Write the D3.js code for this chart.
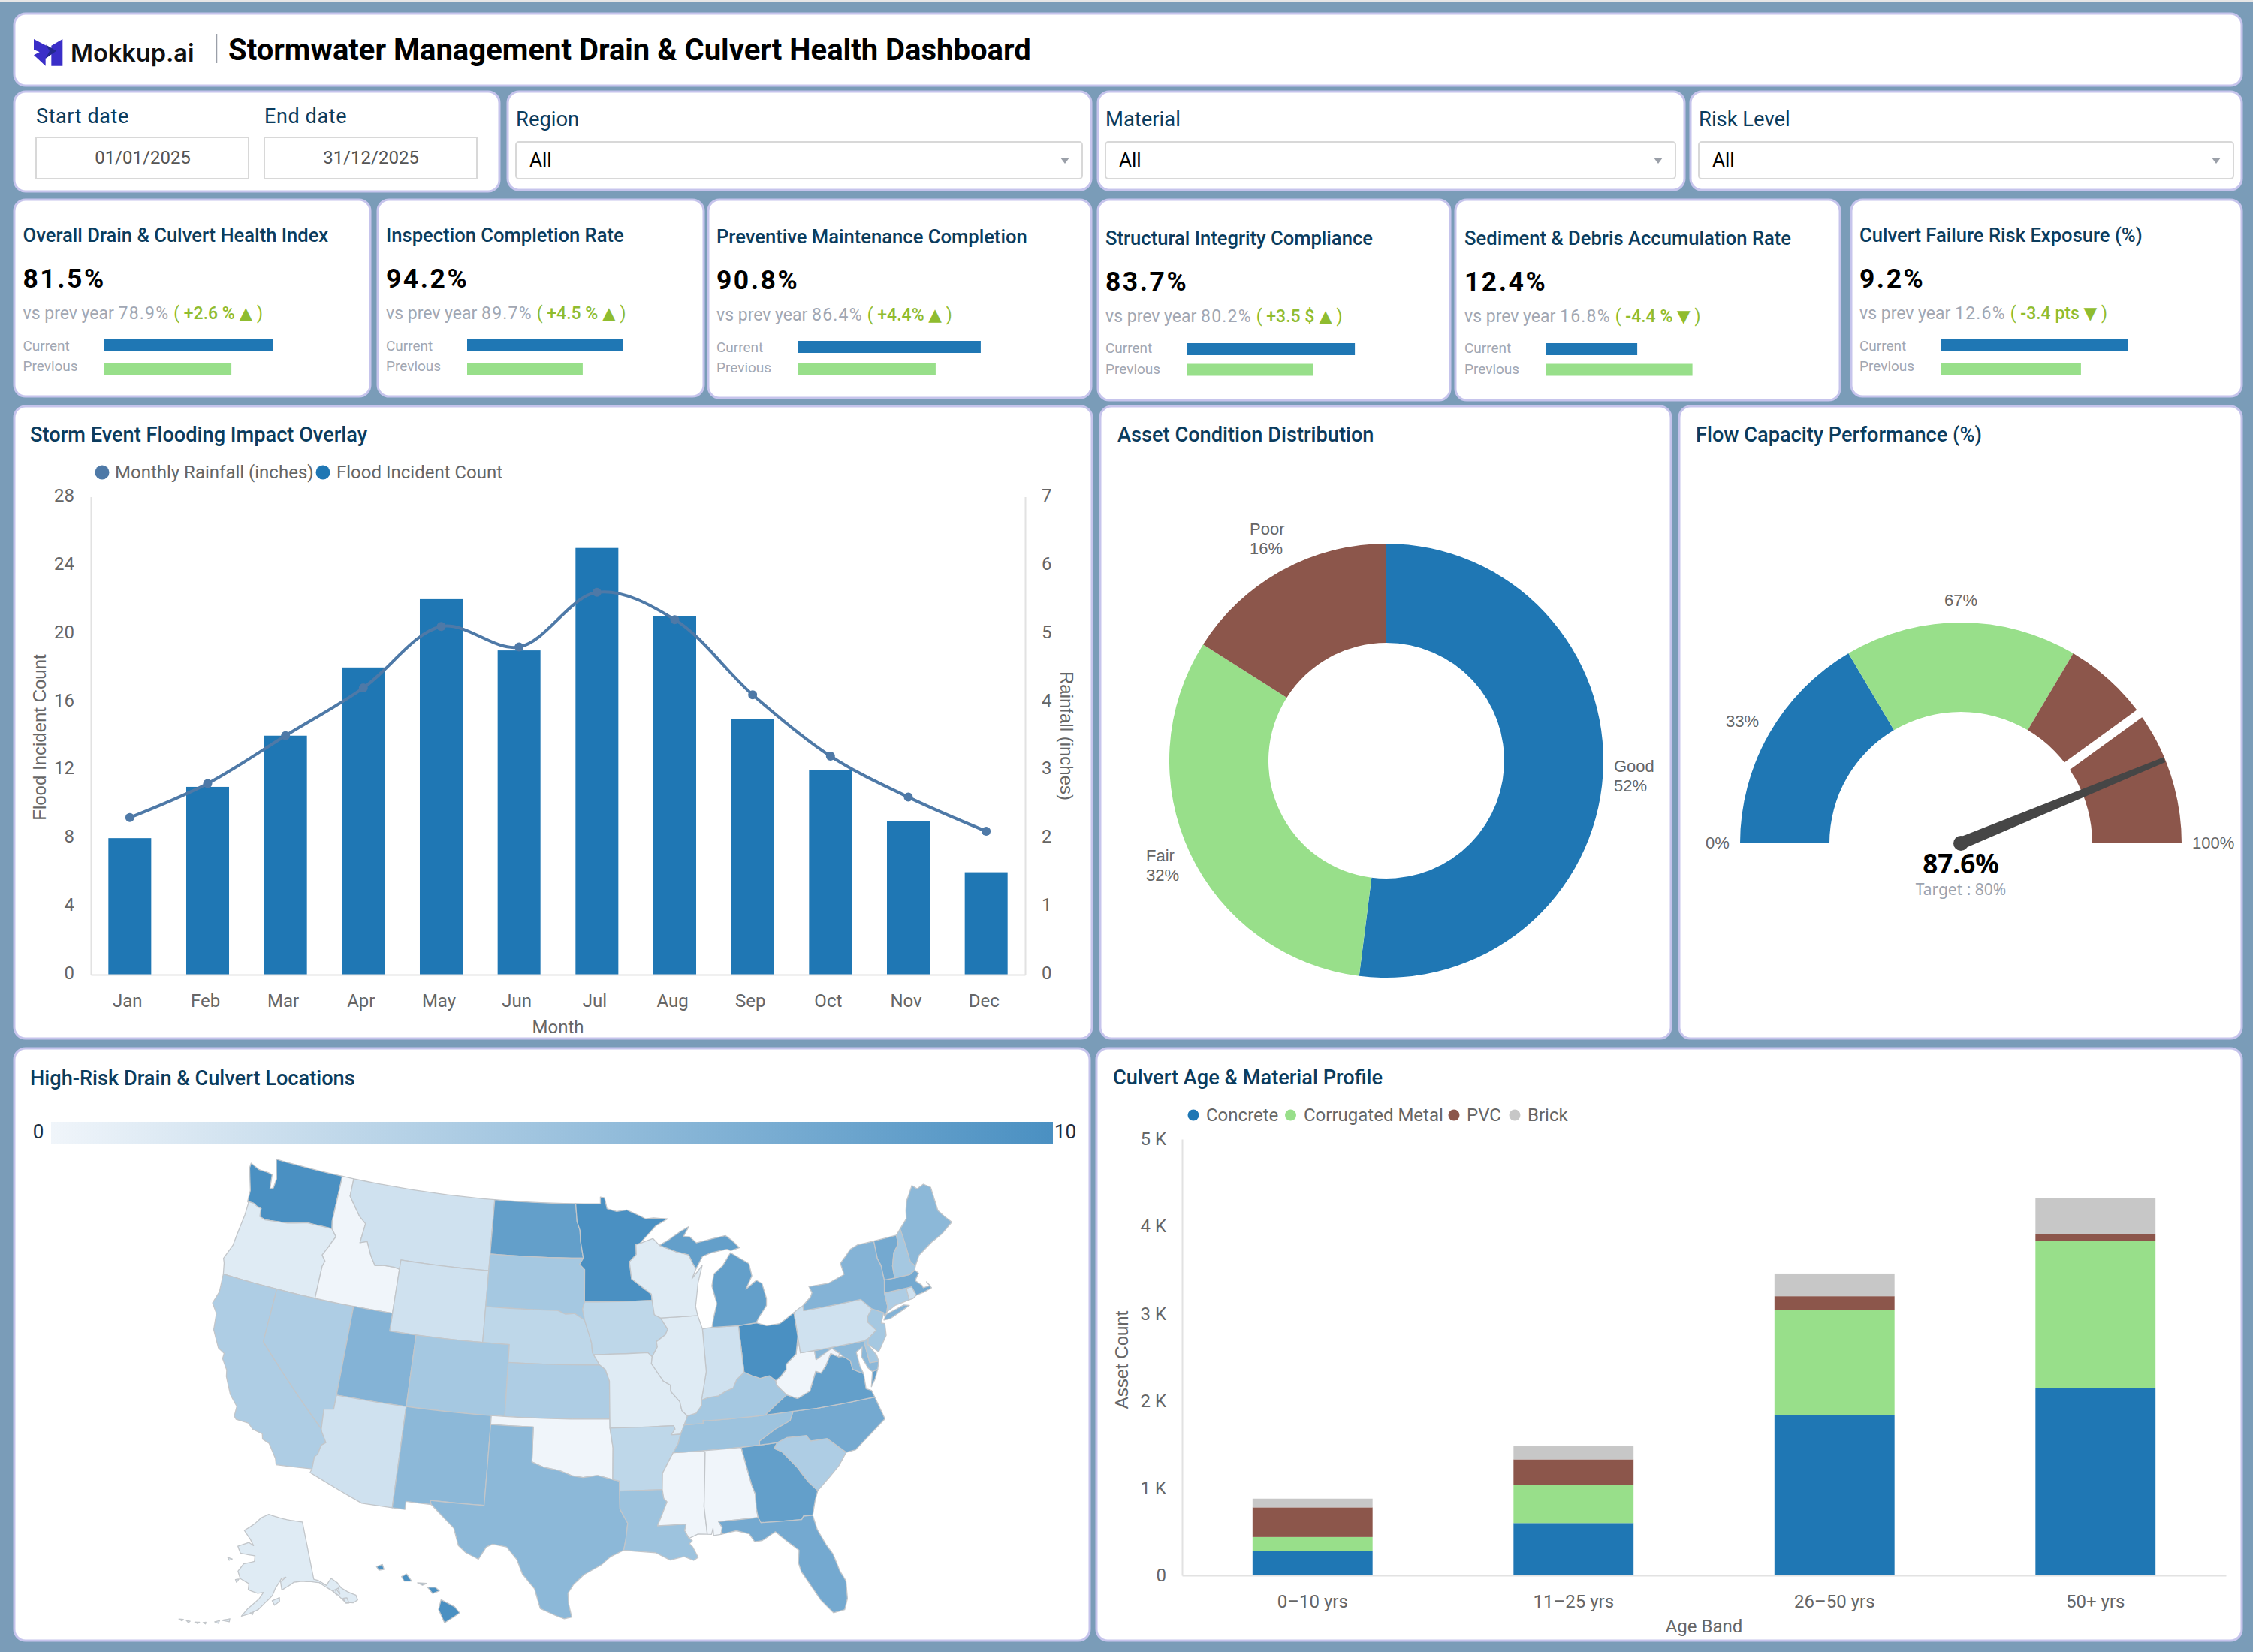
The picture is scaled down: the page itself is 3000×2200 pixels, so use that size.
<!DOCTYPE html>
<html>
<head>
<meta charset="utf-8">
<title>Stormwater Management Drain &amp; Culvert Health Dashboard</title>
<script src="https://cdn.jsdelivr.net/npm/d3@7/dist/d3.min.js"></script>
<style>
  html, body { margin: 0; padding: 0; background: #7a9cb8; }
  svg { display: block; }
  text { font-family: Roboto, sans-serif; }
</style>
</head>
<body>
<svg id="board" width="3000" height="2200"></svg>
<script>
// ---- KPI cards ----
const kpiTitles = ["Overall Drain & Culvert Health Index", "Inspection Completion Rate", "Preventive Maintenance Completion", "Structural Integrity Compliance", "Sediment & Debris Accumulation Rate", "Culvert Failure Risk Exposure (%)"];
const kpiValues = ["81.5%", "94.2%", "90.8%", "83.7%", "12.4%", "9.2%"];
const kpiPrevious = ["78.9%", "89.7%", "86.4%", "80.2%", "16.8%", "12.6%"];
const kpiDeltas = ["+2.6 %", "+4.5 %", "+4.4%", "+3.5 $", "-4.4 %", "-3.4 pts"];
const kpiArrows = ["▲", "▲", "▲", "▲", "▼", "▼"];
// Mini bar readings on the cards' own 0-100 track
const kpiBarCurrent = [75.3, 69, 81.3, 74.7, 40.7, 83.3];
const kpiBarPrevious = [56.7, 51.3, 61.3, 56, 65.2, 62.3];

// ---- Storm chart ----
const months = ["Jan", "Feb", "Mar", "Apr", "May", "Jun", "Jul", "Aug", "Sep", "Oct", "Nov", "Dec"];
const floodIncidents = [8, 11, 14, 18, 22, 19, 25, 21, 15, 12, 9, 6];
const rainfallInches = [2.3, 2.8, 3.5, 4.2, 5.1, 4.8, 5.6, 5.2, 4.1, 3.2, 2.6, 2.1];
const floodTicks = [0, 4, 8, 12, 16, 20, 24, 28];
const rainTicks = [0, 1, 2, 3, 4, 5, 6, 7];

// ---- Asset condition ----
const conditionNames = ["Good", "Fair", "Poor"];
const conditionShares = [52, 32, 16];

// ---- Flow gauge ----
const gaugeStops = [0, 33, 67, 100];
const gaugeValue = 87.6;
const gaugeTarget = 80;

// ---- Culvert age profile ----
const ageBands = ["0–10 yrs", "11–25 yrs", "26–50 yrs", "50+ yrs"];
const materials = ["Concrete", "Corrugated Metal", "PVC", "Brick"];
const concreteCounts = [280, 600, 1840, 2150];
const metalCounts = [160, 440, 1200, 1680];
const pvcCounts = [340, 290, 160, 80];
const brickCounts = [100, 150, 260, 410];
const assetTicks = [0, 1000, 2000, 3000, 4000, 5000];

// ---- High-risk locations per state ----
const riskByState = {
  WA: 10, OR: 1, CA: 4, NV: 4, ID: 0, MT: 2, WY: 2, UT: 6.5, AZ: 2, CO: 4.5, NM: 6, ND: 8.5, SD: 4.5, NE: 3, KS: 4,
  OK: 0, TX: 6, MN: 10, IA: 3, MO: 1, AR: 3, LA: 5, WI: 1, IL: 1, IN: 2, MI: 8.5, OH: 10, KY: 4.5, TN: 5, MS: 0, AL: 0,
  GA: 8.5, FL: 7.5, SC: 4, NC: 7.5, VA: 8.5, WV: 0, PA: 2, NY: 6.5, VT: 7.5, NH: 4.5, ME: 6, MA: 7.5, RI: 2, CT: 4,
  NJ: 4.5, DE: 4.5, MD: 6, AK: 1, HI: 10
};

// State outlines as [longitude, latitude] rings
const stateRings = {
  WA: [[[-124.7,48.38],[-123.9,48.16],[-123.1,48.15],[-122.75,48.1],[-122.6,47.3],[-122.35,47.4],[-122.3,47.95],[-122.5,48.4],[-122.76,49],[-117.03,49],[-117.04,46.42],[-116.92,45.99],[-118.98,46],[-119.3,45.93],[-120.5,45.7],[-121.2,45.65],[-122.3,45.55],[-122.77,45.65],[-122.85,46.1],[-123.2,46.15],[-123.55,46.26],[-124.05,46.27],[-124.1,46.9],[-124.4,47.5],[-124.7,48.1]]],
  OR: [[[-124.05,46.27],[-123.55,46.26],[-123.2,46.15],[-122.85,46.1],[-122.77,45.65],[-122.3,45.55],[-121.2,45.65],[-120.5,45.7],[-119.3,45.93],[-118.98,46],[-116.92,45.99],[-116.47,45.6],[-116.67,45.32],[-116.85,45],[-117.22,44.45],[-117.03,44.25],[-116.9,44.15],[-117.03,43.83],[-117.03,42],[-120,42],[-124.21,42],[-124.4,42.6],[-124.55,42.84],[-124.15,43.7],[-124.05,44.7],[-123.95,45.5],[-123.95,46.2]]],
  CA: [[[-124.21,42],[-120,42],[-120,39],[-114.63,35],[-114.57,34.85],[-114.14,34.3],[-114.43,34.1],[-114.53,33.6],[-114.72,33.4],[-114.72,32.72],[-117.12,32.53],[-117.25,32.85],[-117.9,33.6],[-118.4,33.75],[-118.5,34.03],[-119.2,34.15],[-119.6,34.42],[-120.47,34.45],[-120.65,34.6],[-120.65,35.15],[-121.3,35.7],[-121.9,36.6],[-122,36.95],[-122.5,37.5],[-122.5,37.8],[-123,38],[-123.7,38.9],[-123.85,39.8],[-124.35,40.3],[-124.1,41]]],
  NV: [[[-120,42],[-117.03,42],[-114.04,42],[-114.04,37],[-114.05,36.2],[-114.72,36.1],[-114.63,35],[-120,39]]],
  ID: [[[-117.03,49],[-116.05,49],[-116.05,48],[-115.72,47.7],[-114.95,47],[-114.35,46.65],[-114.5,45.55],[-113.95,45.7],[-113.45,44.95],[-113,44.45],[-112.3,44.55],[-111.5,44.55],[-111.05,44.48],[-111.05,42],[-114.04,42],[-117.03,42],[-117.03,43.83],[-116.9,44.15],[-117.03,44.25],[-117.22,44.45],[-116.85,45],[-116.67,45.32],[-116.47,45.6],[-116.92,45.99],[-117.04,46.42]]],
  MT: [[[-116.05,49],[-104.05,49],[-104.05,45.94],[-104.05,45],[-111.05,45],[-111.05,44.48],[-111.5,44.55],[-112.3,44.55],[-113,44.45],[-113.45,44.95],[-113.95,45.7],[-114.5,45.55],[-114.35,46.65],[-114.95,47],[-115.72,47.7],[-116.05,48]]],
  WY: [[[-111.05,45],[-104.05,45],[-104.05,43],[-104.05,41],[-111.05,41],[-111.05,42],[-111.05,44.48]]],
  UT: [[[-114.04,42],[-111.05,42],[-111.05,41],[-109.05,41],[-109.05,37],[-114.04,37]]],
  CO: [[[-109.05,41],[-104.05,41],[-102.05,41],[-102.05,40],[-102.05,37],[-103,37],[-109.05,37]]],
  AZ: [[[-114.04,37],[-109.05,37],[-109.05,31.33],[-111.07,31.33],[-114.8,32.5],[-114.72,32.72],[-114.72,33.4],[-114.53,33.6],[-114.43,34.1],[-114.14,34.3],[-114.57,34.85],[-114.63,35],[-114.72,36.1],[-114.05,36.2]]],
  NM: [[[-109.05,37],[-103,37],[-103,36.5],[-103.04,32],[-106.62,32],[-106.53,31.78],[-108.21,31.78],[-108.21,31.33],[-109.05,31.33]]],
  ND: [[[-104.05,49],[-97.23,49],[-97.1,48],[-96.85,47.5],[-96.8,46.9],[-96.56,45.94],[-104.05,45.94]]],
  SD: [[[-104.05,45.94],[-96.56,45.94],[-96.85,45.6],[-96.45,45.3],[-96.45,43.5],[-96.6,43.1],[-96.44,42.49],[-97.2,42.85],[-97.9,42.8],[-98.5,43],[-104.05,43],[-104.05,45]]],
  NE: [[[-104.05,43],[-98.5,43],[-97.9,42.8],[-97.2,42.85],[-96.44,42.49],[-96.1,41.7],[-95.9,41.2],[-95.85,40.7],[-95.31,40],[-102.05,40],[-102.05,41],[-104.05,41]]],
  KS: [[[-102.05,40],[-95.31,40],[-94.9,39.75],[-94.61,39.1],[-94.62,37],[-102.05,37]]],
  OK: [[[-103,37],[-102.05,37],[-94.62,37],[-94.62,36.5],[-94.43,35.4],[-94.48,33.64],[-95.5,33.88],[-96.5,33.77],[-97.2,33.85],[-98.1,34.13],[-99.2,34.3],[-100,34.56],[-100,36.5],[-103,36.5]]],
  TX: [[[-106.62,32],[-103.04,32],[-103,36.5],[-100,36.5],[-100,34.56],[-99.2,34.3],[-98.1,34.13],[-97.2,33.85],[-96.5,33.77],[-95.5,33.88],[-94.48,33.64],[-94.04,33.55],[-94.04,33],[-94.04,32],[-93.55,31.2],[-93.7,30.3],[-93.85,29.7],[-94.7,29.35],[-95.3,28.9],[-96.4,28.35],[-97.05,27.8],[-97.4,27.3],[-97.35,26.7],[-97.15,25.96],[-97.6,25.85],[-98.2,26.05],[-99.1,26.4],[-99.5,27.5],[-100.3,28.3],[-100.7,29.1],[-101.4,29.77],[-102.3,29.88],[-102.7,29.7],[-103.15,28.98],[-104,29.3],[-104.5,29.65],[-104.9,30.6],[-106,31.4],[-106.53,31.78]]],
  MN: [[[-97.23,49],[-95.15,49],[-95.15,49.38],[-94.8,49.33],[-94.6,48.72],[-93.8,48.55],[-92.95,48.62],[-92,48.3],[-91.4,48.07],[-90.75,48.1],[-89.6,48],[-90.6,47.65],[-92,46.7],[-92.3,46.66],[-92.3,46.1],[-92.87,45.7],[-92.75,44.75],[-91.25,43.85],[-91.22,43.5],[-96.45,43.5],[-96.45,45.3],[-96.85,45.6],[-96.56,45.94],[-96.8,46.9],[-96.85,47.5],[-97.1,48]]],
  IA: [[[-96.45,43.5],[-91.22,43.5],[-91.1,42.7],[-90.64,42.5],[-90.15,41.85],[-90.35,41.55],[-91.05,41.2],[-91,40.9],[-91.42,40.38],[-91.73,40.61],[-95.77,40.58],[-95.85,40.7],[-95.9,41.2],[-96.1,41.7],[-96.44,42.49],[-96.6,43.1]]],
  MO: [[[-95.77,40.58],[-91.73,40.61],[-91.42,40.38],[-91.5,40],[-90.7,39],[-90.2,38.75],[-90.2,38.4],[-89.6,37.8],[-89.5,37.3],[-89.13,36.98],[-89.4,36.5],[-89.7,36],[-90.37,36],[-90.07,36.3],[-90.15,36.5],[-94.62,36.5],[-94.62,37],[-94.61,39.1],[-94.9,39.75],[-95.31,40]]],
  AR: [[[-94.62,36.5],[-90.15,36.5],[-90.07,36.3],[-90.37,36],[-89.7,36],[-89.9,35.5],[-90.3,35],[-90.6,34.6],[-91.1,33.9],[-91.17,33],[-94.04,33],[-94.04,33.55],[-94.48,33.64],[-94.43,35.4]]],
  LA: [[[-94.04,33],[-91.17,33],[-91.1,32.5],[-90.9,32.3],[-91.6,31],[-89.73,31],[-89.85,30.65],[-89.6,30.2],[-89.4,30.05],[-89.6,29.9],[-89.4,29.7],[-89.1,29.1],[-89.4,28.95],[-90,29.2],[-90.9,29.05],[-91.8,29.5],[-92.6,29.58],[-93.85,29.7],[-93.7,30.3],[-93.55,31.2],[-94.04,32]]],
  MS: [[[-91.17,33],[-91.1,33.9],[-90.6,34.6],[-90.3,35],[-88.2,35],[-88.1,34.9],[-88.47,31.9],[-88.4,30.35],[-89,30.4],[-89.6,30.2],[-89.85,30.65],[-89.73,31],[-91.6,31],[-90.9,32.3],[-91.1,32.5]]],
  TN: [[[-90.3,35],[-89.9,35.5],[-89.7,36],[-89.4,36.5],[-88.07,36.5],[-88.07,36.68],[-87.85,36.63],[-83.68,36.6],[-81.68,36.59],[-82,36.1],[-83.1,35.75],[-84.3,35.2],[-84.32,34.99],[-85.6,34.98],[-88.2,35]]],
  KY: [[[-89.4,36.5],[-89.13,36.98],[-88.5,37.1],[-88.07,37.5],[-88.05,37.8],[-87.6,37.9],[-86.8,37.95],[-86.3,38.15],[-85.7,38.3],[-85.4,38.73],[-84.8,39.1],[-84.25,38.85],[-83.7,38.65],[-83,38.72],[-82.6,38.4],[-82.6,38.17],[-81.97,37.54],[-82.7,37.15],[-83.68,36.6],[-87.85,36.63],[-88.07,36.68],[-88.07,36.5]]],
  AL: [[[-88.2,35],[-85.6,34.98],[-85.18,32.87],[-85,32.3],[-85.05,31.55],[-85,31],[-87.6,31],[-87.4,30.65],[-87.52,30.28],[-88,30.25],[-88,30.65],[-88.13,30.32],[-88.4,30.35],[-88.47,31.9],[-88.1,34.9]]],
  GA: [[[-85.6,34.98],[-84.32,34.99],[-83.1,35],[-83.35,34.7],[-82.85,34.45],[-82,33.5],[-81.4,32.6],[-80.87,32.03],[-81.15,31.5],[-81.45,30.72],[-82.05,30.75],[-82.2,30.57],[-84.86,30.7],[-85,31],[-85.05,31.55],[-85,32.3],[-85.18,32.87]]],
  FL: [[[-87.6,31],[-85,31],[-84.86,30.7],[-82.2,30.57],[-82.05,30.75],[-81.45,30.72],[-81.3,29.9],[-80.9,29],[-80.55,28.4],[-80.3,27.4],[-80.03,26.8],[-80.12,25.8],[-80.4,25.2],[-81.1,25.13],[-81.75,25.95],[-82.15,26.7],[-82.7,27.7],[-82.8,28.2],[-82.65,28.9],[-83.4,29.55],[-84,30.1],[-84.9,29.7],[-85.4,29.68],[-85.7,30.15],[-86.5,30.4],[-87.52,30.28],[-87.4,30.65]]],
  SC: [[[-83.35,34.7],[-83.1,35],[-82.4,35.2],[-81.05,35.15],[-80.8,34.82],[-79.67,34.8],[-78.55,33.86],[-79.2,33.2],[-79.9,32.7],[-80.87,32.03],[-81.4,32.6],[-82,33.5],[-82.85,34.45]]],
  NC: [[[-84.32,34.99],[-84.3,35.2],[-83.1,35.75],[-82,36.1],[-81.68,36.59],[-80,36.55],[-75.87,36.55],[-75.5,35.25],[-76.5,34.7],[-77.9,33.9],[-78.55,33.86],[-79.67,34.8],[-80.8,34.82],[-81.05,35.15],[-82.4,35.2],[-83.1,35]]],
  VA: [[[-83.68,36.6],[-81.68,36.59],[-80,36.55],[-75.87,36.55],[-76,36.95],[-76.35,37.1],[-76.3,37.95],[-77,38.3],[-77.05,38.8],[-77.5,39.1],[-77.83,39.13],[-78.35,39.4],[-78.87,38.77],[-79.3,38.42],[-79.65,38.58],[-80.3,37.55],[-81.25,37.25],[-81.97,37.54],[-82.7,37.15]],[[-75.95,37.15],[-75.65,37.95],[-75.24,38.03],[-75.6,37.5]]],
  WV: [[[-81.97,37.54],[-81.25,37.25],[-80.3,37.55],[-79.65,38.58],[-79.3,38.42],[-78.87,38.77],[-78.35,39.4],[-77.83,39.13],[-77.72,39.32],[-78.2,39.68],[-79.48,39.2],[-79.48,39.72],[-80.52,39.72],[-80.52,40.64],[-80.85,39.7],[-81.7,39.2],[-81.75,38.93],[-82.2,38.6],[-82.6,38.4],[-82.6,38.17]]],
  MD: [[[-79.48,39.72],[-75.79,39.72],[-75.7,38.46],[-75.05,38.45],[-75.24,38.03],[-75.65,37.95],[-75.9,38.2],[-76.2,38.9],[-76,39.4],[-76.5,39.2],[-76.45,38.4],[-76.3,37.95],[-77,38.3],[-77.05,38.8],[-77.5,39.1],[-77.72,39.32],[-78.2,39.68],[-79.48,39.2]]],
  DE: [[[-75.79,39.72],[-75.42,39.8],[-75.55,39.45],[-75.1,38.8],[-75.05,38.45],[-75.7,38.46]]],
  PA: [[[-80.52,41.98],[-80.08,42.17],[-79.76,42.27],[-79.76,42],[-75.35,42],[-74.7,41.36],[-75.13,40.98],[-75.2,40.68],[-74.72,40.15],[-75.42,39.8],[-75.79,39.72],[-79.48,39.72],[-80.52,39.72],[-80.52,40.64]]],
  NJ: [[[-75.13,40.98],[-74.7,41.36],[-73.9,41],[-74.25,40.47],[-74,40.4],[-74.1,39.75],[-74.9,38.95],[-75.55,39.5],[-75.42,39.8],[-74.72,40.15],[-75.2,40.68]]],
  NY: [[[-79.76,42.27],[-79.05,42.7],[-78.9,42.9],[-79.05,43.27],[-77.5,43.25],[-76.2,43.55],[-76.3,44.2],[-75.3,44.85],[-74.7,45],[-73.35,45],[-73.4,44],[-73.25,43.6],[-73.27,42.75],[-73.5,42.05],[-73.5,41.3],[-73.65,41],[-73.9,40.8],[-73.9,41],[-74.7,41.36],[-75.35,42],[-79.76,42]],[[-74,40.6],[-73.75,40.87],[-72.3,41.15],[-71.9,41.05],[-73.5,40.6]]],
  CT: [[[-73.5,42.05],[-71.8,42.02],[-71.8,41.35],[-72.9,41.25],[-73.65,41],[-73.5,41.3]]],
  RI: [[[-71.8,42.02],[-71.38,42.02],[-71.2,41.5],[-71.5,41.37],[-71.8,41.35]]],
  MA: [[[-73.5,42.05],[-73.27,42.75],[-72.46,42.73],[-71.3,42.7],[-70.82,42.87],[-70.6,42.65],[-71,42.3],[-70.6,41.95],[-70.55,41.8],[-70,41.8],[-70.2,42.07],[-69.95,41.67],[-70.6,41.55],[-71.2,41.5],[-71.38,42.02],[-71.8,42.02]]],
  VT: [[[-73.35,45],[-71.5,45.01],[-71.55,44.5],[-72.05,44.1],[-72.4,43.4],[-72.46,42.73],[-73.27,42.75],[-73.25,43.6],[-73.4,44]]],
  NH: [[[-71.5,45.01],[-71.08,45.3],[-71,44.3],[-70.98,43.4],[-70.7,43.07],[-70.82,42.87],[-71.3,42.7],[-72.46,42.73],[-72.4,43.4],[-72.05,44.1],[-71.55,44.5]]],
  ME: [[[-71.08,45.3],[-70.4,45.75],[-70.25,46.2],[-70,46.7],[-69.23,47.46],[-68.9,47.2],[-68.3,47.35],[-67.8,47.07],[-67.79,45.7],[-67.45,45.3],[-67,44.85],[-68,44.4],[-69,44.1],[-70.2,43.6],[-70.7,43.07],[-70.98,43.4],[-71,44.3]]],
  OH: [[[-84.8,39.1],[-84.8,41.7],[-83.45,41.73],[-82.7,41.5],[-81.7,41.5],[-80.52,41.98],[-80.52,40.64],[-80.85,39.7],[-81.7,39.2],[-81.75,38.93],[-82.2,38.6],[-82.6,38.4],[-83,38.72],[-83.7,38.65],[-84.25,38.85]]],
  IN: [[[-87.53,41.72],[-87.2,41.75],[-86.8,41.76],[-84.8,41.7],[-84.8,39.1],[-85.4,38.73],[-85.7,38.3],[-86.3,38.15],[-86.8,37.95],[-87.6,37.9],[-88.05,37.8],[-87.53,39.35]]],
  IL: [[[-90.64,42.5],[-87.8,42.49],[-87.53,41.72],[-87.53,39.35],[-88.05,37.8],[-88.07,37.5],[-88.5,37.1],[-89.13,36.98],[-89.5,37.3],[-89.6,37.8],[-90.2,38.4],[-90.2,38.75],[-90.7,39],[-91.5,40],[-91.42,40.38],[-91,40.9],[-91.05,41.2],[-90.35,41.55],[-90.15,41.85]]],
  WI: [[[-92,46.7],[-90.9,46.95],[-90.4,46.55],[-89.1,46.13],[-88.1,45.9],[-87.8,45.35],[-87.6,45.1],[-88,44.55],[-87.1,45.25],[-87.55,44.3],[-87.9,43],[-87.8,42.49],[-90.64,42.5],[-91.1,42.7],[-91.22,43.5],[-91.25,43.85],[-92.75,44.75],[-92.87,45.7],[-92.3,46.1],[-92.3,46.66]]],
  MI: [[[-86.8,41.76],[-84.8,41.7],[-83.45,41.73],[-83.15,42.05],[-82.5,42.6],[-82.42,43],[-82.6,43.85],[-83,44.07],[-83.9,43.65],[-83.3,44.35],[-83.4,45.05],[-84.75,45.78],[-85.5,45.1],[-86.25,44.7],[-86.5,44.05],[-86.25,43.05],[-86.6,42.3]],[[-90.4,46.55],[-89.1,46.13],[-88.1,45.9],[-87.8,45.35],[-87.6,45.1],[-87,45.75],[-86.3,45.9],[-85,46],[-84.7,45.9],[-84,46],[-84.5,46.45],[-85,46.77],[-86.1,46.67],[-87.4,46.53],[-87.9,46.9],[-88.4,46.95],[-87.9,47.47],[-88.6,47.25],[-89.6,46.83]]],
  AK: [[[-141,69.65],[-141,60.3],[-139.5,59.9],[-137.5,58.9],[-136.5,59.4],[-135.5,59.8],[-134,58.8],[-133.4,57.9],[-132,57],[-130,56],[-130,55.2],[-131.5,55],[-133.5,55.5],[-135,57],[-136.5,58],[-139.5,59.6],[-142,60],[-145,60.3],[-147.5,60.3],[-148.5,60],[-151.5,59.2],[-151.8,60.5],[-150,61.2],[-151.5,61],[-153.5,59.5],[-154.5,58.3],[-156.5,57.2],[-158.5,56],[-161,55.2],[-163,54.7],[-161.5,56],[-158.5,57.7],[-157.2,58.8],[-159,58.6],[-162,59],[-162,60],[-165,60.6],[-166.2,61.7],[-164.7,63],[-161,63.6],[-161,64.5],[-166.5,64.6],[-168,65.6],[-164,66.5],[-162,66.1],[-163.7,67.1],[-166.7,68.3],[-163,69.5],[-160,70.7],[-156.5,71.35],[-152,70.85],[-148,70.4],[-144,70]],[[-154.5,57.5],[-152.3,58],[-152.3,57.4],[-153.8,56.8]],[[-168,53.5],[-166,54],[-166,53.5]],[[-169.8,53],[-168.6,53.4],[-168.8,52.9]],[[-172.7,52.4],[-172,52.6],[-172,52.3]],[[-174.8,52.1],[-173.6,52.3],[-174,52]],[[-177,51.9],[-176,52],[-176.3,51.7]],[[-178.9,51.7],[-177.8,51.9],[-178,51.6]],[[-166.5,60.3],[-165.4,60.5],[-166,59.9]],[[-170.7,63.5],[-169,63.4],[-170,63.1]],[[-134.9,57.9],[-134.2,58],[-134.3,57]],[[-136,57.8],[-135.2,57.9],[-135.3,57]],[[-133.8,56.2],[-132.7,56.1],[-132.6,55.2],[-133.4,55.3]],[[-160.6,55.4],[-159.8,55.5],[-160,55.1]]],
  HI: [[[-155.9,20.25],[-155.1,19.85],[-154.8,19.5],[-155.7,18.95],[-156.05,19.7]],[[-156.7,20.95],[-156.25,20.95],[-156,20.75],[-156.4,20.6]],[[-157.3,21.2],[-156.75,21.17],[-157,21.07]],[[-158.25,21.55],[-157.95,21.7],[-157.65,21.3],[-158.1,21.3]],[[-159.75,22.1],[-159.4,22.23],[-159.3,21.95],[-159.6,21.9]]]
};

// ---- Palette and shared styles ----
const BLUE = "#1f77b4", GREEN = "#98df8a", BROWN = "#8c564b", GREY = "#c7c7c7", LINE = "#4e79a7";
const HEADING = "#0b3c5d", TICK = "#666666", AXIS = "#e2e2e2", MUTED = "#a1a7b3", DELTA = "#8fbc2f";
const TITLE_SIZE = 27.2;

const svg = d3.select("#board");
svg.append("rect").attr("width", 3000).attr("height", 2200).attr("fill", "#7a9cb8");
svg.append("rect").attr("width", 3000).attr("height", 2).attr("fill", "#e6e6e6");

// Panels as [x0, y0, x1, y1]
const panelBoxes = [
  [19, 18, 2985, 114], [19, 122, 665, 255], [676, 122, 1453, 253], [1462, 122, 2243, 253], [2251, 122, 2985, 253],
  [19, 266, 493, 528], [503, 266, 937, 528], [943, 266, 1453, 530], [1462, 266, 1931, 533], [1938, 266, 2450, 533], [2465, 266, 2985, 528],
  [19, 541, 1454, 1383], [1465, 541, 2225, 1383], [2236, 541, 2985, 1383], [19, 1396, 1451, 2185], [1460, 1396, 2985, 2185]
];
svg.append("g").selectAll("rect").data(panelBoxes).join("rect")
  .attr("x", d => d[0]).attr("y", d => d[1])
  .attr("width", d => d[2] - d[0]).attr("height", d => d[3] - d[1])
  .attr("rx", 15).attr("fill", "#fff").attr("stroke", "#c6c4ec").attr("stroke-width", 3);

function label(parent, x, y, str, opts = {}) {
  return parent.append("text").attr("x", x).attr("y", y).attr("dy", opts.dy ?? "0.35em")
    .attr("text-anchor", opts.anchor ?? "start")
    .attr("font-size", opts.size ?? 24).attr("font-weight", opts.weight ?? 400)
    .attr("fill", opts.fill ?? TICK)
    .style("font-family", opts.family ?? null)
    .text(str);
}

// ---- Header ----
const header = svg.append("g");
const logo = header.append("g").attr("transform", "translate(40,46) scale(0.3333)");
logo.append("path").attr("fill", "#3a2ec8").attr("d", "M15,18 L105,65 L62,95 L62,125 L15,82 L38,70 L15,60 Z");
logo.append("path").attr("fill", "#3a2ec8").attr("d", "M130,18 L130,125 L85,125 L85,44 Z");
logo.append("path").attr("fill", "#22288f").attr("d", "M62,40 L105,65 L62,95 L78,65 Z");
label(header, 94, 71, "Mokkup.ai", { size: 32.5, weight: 600, fill: "#111", family: "Inter, sans-serif" });
header.append("line").attr("x1", 288.5).attr("x2", 288.5).attr("y1", 45).attr("y2", 84).attr("stroke", "#9a9fa8").attr("stroke-width", 1.5);
label(header, 304, 66, "Stormwater Management Drain & Culvert Health Dashboard", { size: 40, weight: 700, fill: "#000" });

// ---- Filters ----
const filters = svg.append("g");
label(filters, 48, 155, "Start date", { size: 27, fill: HEADING }).style("letter-spacing", "0.6px");
label(filters, 352, 155, "End date", { size: 27, fill: HEADING }).style("letter-spacing", "0.6px");
[[48, "01/01/2025"], [352, "31/12/2025"]].forEach(([x, str]) => {
  filters.append("rect").attr("x", x).attr("y", 183).attr("width", 283).attr("height", 55).attr("fill", "#fff").attr("stroke", "#d8d8d8").attr("stroke-width", 2);
  label(filters, x + 142, 210, str, { size: 24, anchor: "middle", fill: "#555" });
});
const dropdownNames = ["Region", "Material", "Risk Level"];
const dropdownBoxes = [[687, 1441], [1472, 2231], [2262, 2974]];
dropdownNames.forEach((name, i) => {
  const [x0, x1] = dropdownBoxes[i];
  label(filters, x0, 158, name, { size: 27.4, fill: HEADING });
  filters.append("rect").attr("x", x0).attr("y", 189).attr("width", x1 - x0).attr("height", 49).attr("rx", 4).attr("fill", "#fff").attr("stroke", "#d8d8d8").attr("stroke-width", 2);
  label(filters, x0 + 18, 213, "All", { size: 26, fill: "#000" });
  filters.append("path").attr("fill", "#9a9fa8").attr("d", `M${x1 - 29},210 h12 l-6,8 z`);
});

// ---- KPI cards ----
// [text x, bar x, title y, value y, comparison y, current label y, previous label y, current bar y, previous bar y]
const kpiLayout = [
  [30.5, 138, 313, 370.5, 417, 460, 487, 460, 491],
  [514, 622, 313, 370.5, 417, 460, 487, 460, 491],
  [954, 1062, 315, 372.5, 419, 462, 489, 462, 491],
  [1472, 1580, 317, 374.5, 421, 463, 491, 465, 492.5],
  [1950, 2058, 317, 374.5, 421, 463, 491, 465, 492.5],
  [2476, 2584, 313, 370.5, 417, 460, 487, 460, 491]
];
const kpiBarScale = d3.scaleLinear().domain([0, 100]).range([0, 300]);
kpiTitles.forEach((title, i) => {
  const [tx, bx, ty, vy, cy, curLab, prevLab, curBar, prevBar] = kpiLayout[i];
  const g = svg.append("g");
  label(g, tx, ty, title, { size: 25.6, weight: 500, fill: HEADING });
  label(g, tx, vy, kpiValues[i], { size: 35.5, weight: 700, fill: "#000" }).style("letter-spacing", "2.5px");
  const cmp = label(g, tx, cy, "vs prev year ", { size: 23, fill: MUTED });
  cmp.append("tspan").style("letter-spacing", "1.2px").text(kpiPrevious[i]);
  cmp.append("tspan").attr("dx", 6).attr("fill", DELTA).text("( ");
  cmp.append("tspan").attr("fill", DELTA).attr("font-weight", 500).text(kpiDeltas[i] + " ");
  cmp.append("tspan").attr("fill", DELTA).style("font-family", "'DejaVu Sans', sans-serif").text(kpiArrows[i]);
  cmp.append("tspan").attr("fill", DELTA).text(" )");
  label(g, tx, curLab, "Current", { size: 19, fill: MUTED });
  label(g, tx, prevLab, "Previous", { size: 19, fill: MUTED });
  g.append("rect").attr("x", bx).attr("y", curBar - 8).attr("height", 16).attr("width", kpiBarScale(kpiBarCurrent[i])).attr("fill", BLUE);
  g.append("rect").attr("x", bx).attr("y", prevBar - 8).attr("height", 16).attr("width", kpiBarScale(kpiBarPrevious[i])).attr("fill", GREEN);
});

function styleAxis(g, size = 24) {
  g.selectAll("text").attr("font-size", size).attr("fill", TICK).style("font-family", "Roboto, sans-serif");
  g.selectAll(".domain").attr("stroke", AXIS).attr("stroke-width", 2);
  g.selectAll(".tick line").remove();
}

function legendDots(parent, y, r, items) {
  items.forEach(([cx, tx, color, str]) => {
    parent.append("circle").attr("cx", cx).attr("cy", y).attr("r", r).attr("fill", color);
    label(parent, tx, y, str, { size: 24 });
  });
}

// ---- Storm event overlay ----
const storm = svg.append("g");
label(storm, 40, 578, "Storm Event Flooding Impact Overlay", { size: TITLE_SIZE, weight: 500, fill: HEADING });
legendDots(storm, 629, 9.5, [[136, 153, LINE, "Monthly Rainfall (inches)"], [430, 448, BLUE, "Flood Incident Count"]]);

const stormX = d3.scaleBand().domain(months).range([121, 1365]).paddingInner(0.45).paddingOuter(0.225);
const floodY = d3.scaleLinear().domain([0, 28]).range([1298, 661.5]);
const rainY = d3.scaleLinear().domain([0, 7]).range([1298, 661.5]);

storm.selectAll(".bar").data(months).join("rect").attr("class", "bar")
  .attr("x", d => stormX(d)).attr("width", stormX.bandwidth())
  .attr("y", (d, i) => floodY(floodIncidents[i]))
  .attr("height", (d, i) => floodY(0) - floodY(floodIncidents[i]))
  .attr("fill", BLUE);

const liftTicks = g => g.selectAll("text").attr("dy", "0.24em");
storm.append("g").attr("transform", "translate(121,0)")
  .call(d3.axisLeft(floodY).tickValues(floodTicks).tickSize(0).tickPadding(22))
  .call(styleAxis).call(liftTicks);
storm.append("g").attr("transform", "translate(1365,0)")
  .call(d3.axisRight(rainY).tickValues(rainTicks).tickSize(0).tickPadding(22).tickFormat(d3.format("d")))
  .call(styleAxis).call(liftTicks);
storm.append("g").attr("transform", "translate(0,1298)")
  .call(d3.axisBottom(stormX).tickSize(0).tickPadding(26))
  .call(styleAxis)
  .call(g => g.selectAll("text").attr("dx", -3));

const rainLine = d3.line().x((d, i) => stormX(months[i]) + stormX.bandwidth() / 2).y(d => rainY(d)).curve(d3.curveCatmullRom.alpha(0.5));
storm.append("path").attr("d", rainLine(rainfallInches)).attr("fill", "none").attr("stroke", LINE).attr("stroke-width", 4);
storm.selectAll(".pt").data(rainfallInches).join("circle").attr("class", "pt")
  .attr("cx", (d, i) => stormX(months[i]) + stormX.bandwidth() / 2).attr("cy", d => rainY(d)).attr("r", 6).attr("fill", LINE);

label(storm, 743, 1368, "Month", { anchor: "middle" });
const AXIS_TITLE_FONT = "'Liberation Sans', Arial, sans-serif";
label(storm, 0, 0, "Flood Incident Count", { anchor: "middle", size: 24, family: AXIS_TITLE_FONT }).attr("transform", "translate(53,982) rotate(-90)");
label(storm, 0, 0, "Rainfall (inches)", { anchor: "middle", size: 24, family: AXIS_TITLE_FONT }).attr("transform", "translate(1420,980) rotate(90)");

// ---- Asset condition donut ----
const asset = svg.append("g");
label(asset, 1488, 578, "Asset Condition Distribution", { size: TITLE_SIZE, weight: 500, fill: HEADING });
const donutArc = d3.arc().innerRadius(157).outerRadius(289);
const donutColors = [BLUE, GREEN, BROWN];
asset.append("g").attr("transform", "translate(1846,1013)")
  .selectAll("path").data(d3.pie().sort(null)(conditionShares)).join("path")
  .attr("d", donutArc).attr("fill", (d, i) => donutColors[i]);
const donutLabelPos = [[2149, 1020], [1526, 1139], [1664, 704]];
conditionNames.forEach((name, i) => {
  const [x, y] = donutLabelPos[i];
  label(asset, x, y, name, { size: 22, family: AXIS_TITLE_FONT });
  label(asset, x, y + 26, conditionShares[i] + "%", { size: 22, family: AXIS_TITLE_FONT });
});

// ---- Flow capacity gauge ----
const flow = svg.append("g");
label(flow, 2258, 578, "Flow Capacity Performance (%)", { size: TITLE_SIZE, weight: 500, fill: HEADING });
const gaugeAngle = d3.scaleLinear().domain([0, 100]).range([-Math.PI / 2, Math.PI / 2]);
const gaugeArc = d3.arc().innerRadius(175).outerRadius(294);
const gauge = flow.append("g").attr("transform", "translate(2611,1123)");
const gaugeColors = [BLUE, GREEN, BROWN];
gaugeColors.forEach((c, i) => {
  gauge.append("path").attr("fill", c).attr("d", gaugeArc({ startAngle: gaugeAngle(gaugeStops[i]), endAngle: gaugeAngle(gaugeStops[i + 1]) }));
});
const polar = (a, r) => [r * Math.sin(a), -r * Math.cos(a)];
const [tx0, ty0] = polar(gaugeAngle(gaugeTarget), 172);
const [tx1, ty1] = polar(gaugeAngle(gaugeTarget), 298);
gauge.append("line").attr("x1", tx0).attr("y1", ty0).attr("x2", tx1).attr("y2", ty1).attr("stroke", "#fff").attr("stroke-width", 12);
const needleA = gaugeAngle(gaugeValue);
const needleTip = polar(needleA, 293);
const needlePerp = polar(needleA + Math.PI / 2, 1);
const needlePts = [
  [needlePerp[0] * 8, needlePerp[1] * 8],
  [needleTip[0] + needlePerp[0] * 3.5, needleTip[1] + needlePerp[1] * 3.5],
  [needleTip[0] - needlePerp[0] * 3.5, needleTip[1] - needlePerp[1] * 3.5],
  [-needlePerp[0] * 8, -needlePerp[1] * 8]
];
gauge.append("path").attr("d", d3.line()(needlePts) + "Z").attr("fill", "#464646");
gauge.append("circle").attr("r", 10).attr("fill", "#464646");
label(flow, 2271, 1122, "0%", { size: 22, family: AXIS_TITLE_FONT });
label(flow, 2320, 960, "33%", { size: 22, anchor: "middle", family: AXIS_TITLE_FONT });
label(flow, 2611, 799, "67%", { size: 22, anchor: "middle", family: AXIS_TITLE_FONT });
label(flow, 2919, 1122, "100%", { size: 22, family: AXIS_TITLE_FONT });
label(flow, 2611, 1150.5, gaugeValue.toFixed(1) + "%", { size: 35, weight: 700, anchor: "middle", fill: "#000", family: "'Noto Sans', sans-serif" });
label(flow, 2611, 1185, "Target : " + gaugeTarget + "%", { size: 21, anchor: "middle", fill: "#9ca3af", family: "'Noto Sans', sans-serif" });

// ---- High-risk map ----
const mapPanel = svg.append("g");
label(mapPanel, 40, 1435, "High-Risk Drain & Culvert Locations", { size: TITLE_SIZE, weight: 500, fill: HEADING });
const riskColor = d3.scaleLinear().domain([0, 10]).range(["#f0f5fa", "#4a90c2"]);
const defs = svg.append("defs");
const legendGrad = defs.append("linearGradient").attr("id", "riskRamp");
legendGrad.selectAll("stop").data([0, 10]).join("stop")
  .attr("offset", d => d * 10 + "%").attr("stop-color", d => riskColor(d));
mapPanel.append("rect").attr("x", 68).attr("y", 1494).attr("width", 1334).attr("height", 30).attr("fill", "url(#riskRamp)");
label(mapPanel, 51, 1507, "0", { size: 26, anchor: "middle", fill: "#1f2d3d" });
label(mapPanel, 1404, 1507, "10", { size: 26, fill: "#1f2d3d" });

// Long straight borders follow parallels, so add intermediate vertices before projecting
function denseRing(ring) {
  const out = [];
  ring.forEach((p, i) => {
    const q = ring[(i + 1) % ring.length];
    const steps = Math.max(1, Math.ceil(Math.hypot(q[0] - p[0], q[1] - p[1])));
    for (let s = 0; s < steps; s++) out.push([p[0] + (q[0] - p[0]) * s / steps, p[1] + (q[1] - p[1]) * s / steps]);
  });
  out.push(out[0].slice());
  return out;
}
function ringFeature(ring) {
  let poly = { type: "Polygon", coordinates: [denseRing(ring)] };
  if (d3.geoArea(poly) > 2 * Math.PI) poly = { type: "Polygon", coordinates: [denseRing(ring).reverse()] };
  return poly;
}
const stateFeatures = Object.keys(stateRings).map(code => ({
  type: "Feature", id: code,
  geometry: { type: "GeometryCollection", geometries: stateRings[code].map(ringFeature) }
}));
const projection = d3.geoAlbersUsa().scale(1365).translate([775, 1849]);
const mapPath = d3.geoPath(projection);
mapPanel.append("g").selectAll("path").data(stateFeatures).join("path")
  .attr("d", mapPath)
  .attr("fill", d => riskColor(riskByState[d.id]))
  .attr("stroke", "#c2c6ca").attr("stroke-width", 1.3).attr("stroke-linejoin", "round");

// ---- Culvert age and material profile ----
const culvert = svg.append("g");
label(culvert, 1482, 1434, "Culvert Age & Material Profile", { size: TITLE_SIZE, weight: 500, fill: HEADING });
const materialColors = [BLUE, GREEN, BROWN, GREY];
legendDots(culvert, 1485, 7.5, [[1589, 1606, BLUE, materials[0]], [1718.5, 1736, GREEN, materials[1]], [1936, 1953, BROWN, materials[2]], [2017, 2034, GREY, materials[3]]]);
const ageX = d3.scaleBand().domain(ageBands).range([1574, 2964]).paddingInner(0.54).paddingOuter(0.27);
const countY = d3.scaleLinear().domain([0, 5000]).range([2098, 1517]);
const materialRows = ageBands.map((band, i) => ({
  band, [materials[0]]: concreteCounts[i], [materials[1]]: metalCounts[i], [materials[2]]: pvcCounts[i], [materials[3]]: brickCounts[i]
}));
const stacked = d3.stack().keys(materials)(materialRows);
culvert.selectAll(".layer").data(stacked).join("g").attr("class", "layer")
  .attr("fill", (d, i) => materialColors[i])
  .selectAll("rect").data(d => d).join("rect")
  .attr("x", d => ageX(d.data.band)).attr("width", ageX.bandwidth())
  .attr("y", d => countY(d[1])).attr("height", d => countY(d[0]) - countY(d[1]));
culvert.append("g").attr("transform", "translate(1574,0)")
  .call(d3.axisLeft(countY).tickValues(assetTicks).tickSize(0).tickPadding(21).tickFormat(d => d ? (d / 1000) + " K" : "0"))
  .call(styleAxis);
culvert.append("g").attr("transform", "translate(0,2098)")
  .call(d3.axisBottom(ageX).tickSize(0).tickPadding(26))
  .call(styleAxis);
label(culvert, 2269, 2166, "Age Band", { anchor: "middle" });
label(culvert, 0, 0, "Asset Count", { anchor: "middle", size: 24, family: AXIS_TITLE_FONT }).attr("transform", "translate(1494,1811) rotate(-90)");
</script>
</body>
</html>
